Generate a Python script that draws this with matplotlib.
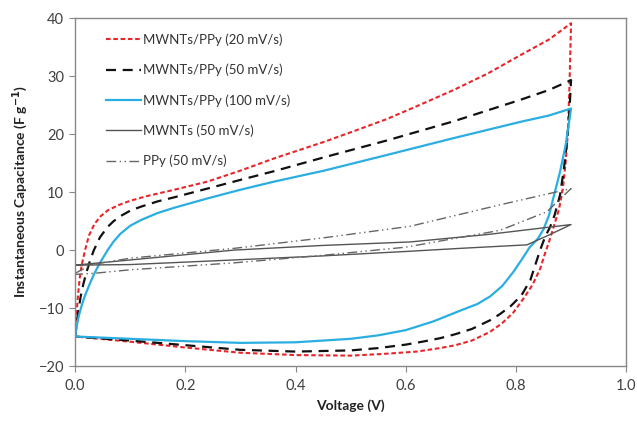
import matplotlib
matplotlib.use('Agg')
from matplotlib import pyplot as plt

plt.rcParams['font.family'] = ['Lato', 'DejaVu Sans']

# MWNTs/PPy 20 mV/s: forward sweep then reverse sweep
red_v = [0.0, 0.004, 0.008, 0.012, 0.018, 0.025, 0.035, 0.047, 0.06, 0.08, 0.10, 0.13, 0.18, 0.24,
         0.30, 0.361, 0.45, 0.5, 0.566, 0.62, 0.687, 0.75, 0.808, 0.86, 0.9,
         0.897, 0.894, 0.89, 0.885, 0.878, 0.87, 0.862, 0.853, 0.844, 0.83, 0.814, 0.795, 0.775,
         0.753, 0.72, 0.69, 0.662, 0.62, 0.56, 0.5, 0.4, 0.3, 0.2, 0.1, 0.0]
red_i = [-14.9, -9.0, -5.0, -2.5, 0.0, 2.5, 4.5, 5.9, 6.9, 7.8, 8.5, 9.3, 10.4, 11.8,
         13.7, 15.8, 18.6, 20.3, 22.6, 24.8, 27.6, 30.5, 33.6, 36.3, 39.1,
         28.0, 20.0, 15.0, 10.5, 7.0, 4.5, 2.0, -0.5, -3.2, -6.0, -8.3, -10.8, -12.6,
         -14.1, -15.6, -16.4, -16.9, -17.5, -17.9, -18.2, -18.1, -17.7, -16.8, -15.8, -14.9]

# MWNTs/PPy 50 mV/s
blk_v = [0.0, 0.005, 0.01, 0.015, 0.02, 0.027, 0.034, 0.045, 0.059, 0.07, 0.085, 0.10, 0.12, 0.15,
         0.18, 0.24, 0.30, 0.361, 0.452, 0.566, 0.687, 0.808, 0.86, 0.9,
         0.897, 0.893, 0.887, 0.88, 0.87, 0.862, 0.853, 0.845, 0.838, 0.826, 0.81, 0.79, 0.77,
         0.753, 0.72, 0.69, 0.662, 0.63, 0.6, 0.55, 0.5, 0.4, 0.3, 0.2, 0.1, 0.0]
blk_i = [-14.9, -11.0, -8.0, -5.8, -4.0, -1.8, 0.0, 2.2, 4.0, 5.0, 6.0, 6.8, 7.5, 8.4,
         9.1, 10.6, 12.1, 13.6, 16.0, 18.9, 22.2, 25.9, 27.6, 29.3,
         24.0, 19.0, 14.0, 9.5, 6.0, 4.0, 2.3, 0.3, -1.7, -5.2, -7.8, -9.7, -11.1,
         -12.1, -13.6, -14.5, -15.2, -15.8, -16.3, -16.9, -17.3, -17.5, -17.2, -16.4, -15.6, -14.9]

# MWNTs/PPy 100 mV/s
blu_v = [0.0, 0.003, 0.007, 0.012, 0.018, 0.027, 0.035, 0.045, 0.059, 0.07, 0.082, 0.10, 0.12, 0.15,
         0.18, 0.21, 0.24, 0.30, 0.361, 0.452, 0.566, 0.687, 0.808, 0.86, 0.9,
         0.89, 0.88, 0.87, 0.86, 0.85, 0.84, 0.825, 0.81, 0.795, 0.775, 0.753, 0.73, 0.7, 0.65,
         0.6, 0.55, 0.5, 0.4, 0.3, 0.2, 0.1, 0.0]
blu_i = [-14.9, -13.0, -11.2, -9.5, -7.8, -5.7, -4.0, -2.2, 0.0, 1.5, 2.8, 4.2, 5.2, 6.4,
         7.3, 8.1, 8.9, 10.4, 11.8, 13.7, 16.4, 19.3, 22.1, 23.2, 24.4,
         18.0, 13.5, 9.8, 6.0, 3.6, 2.0, 0.5, -1.7, -3.8, -6.2, -8.0, -9.3, -10.4, -12.3,
         -13.8, -14.7, -15.3, -15.9, -16.0, -15.7, -15.3, -14.9]

# MWNTs 50 mV/s
cnt_v = [0.0, 0.1, 0.2, 0.289, 0.45, 0.608, 0.75, 0.9,
         0.86, 0.82, 0.7, 0.608, 0.45, 0.289, 0.1, 0.0]
cnt_i = [-2.6, -1.7, -0.8, 0.0, 0.8, 1.4, 2.7, 4.4,
         2.6, 0.9, 0.3, -0.2, -1.0, -1.7, -2.5, -2.6]

# PPy 50 mV/s
ppy_v = [0.0, 0.03, 0.1, 0.2, 0.289, 0.45, 0.608, 0.771, 0.9,
         0.856, 0.771, 0.6, 0.45, 0.289, 0.1, 0.035, 0.0]
ppy_i = [-4.0, -2.5, -1.4, -0.5, 0.3, 2.1, 4.1, 7.8, 10.6,
         6.6, 3.4, 0.5, -0.9, -2.2, -3.4, -4.0, -4.2]

fig = plt.figure(figsize=(6.37, 4.4), dpi=100)
ax = fig.add_axes([0.118, 0.168, 0.865, 0.791])

ax.plot(red_v, red_i, color='#e8262a', lw=1.5, dashes=(2.2, 1.3), label='MWNTs/PPy (20 mV/s)')
ax.plot(blk_v, blk_i, color='#111111', lw=1.6, dashes=(4.5, 3), label='MWNTs/PPy (50 mV/s)')
ax.plot(blu_v, blu_i, color='#2aaee2', lw=1.6, label='MWNTs/PPy (100 mV/s)')
ax.plot(cnt_v, cnt_i, color='#555555', lw=1.0, label='MWNTs (50 mV/s)')
ax.plot(ppy_v, ppy_i, color='#666666', lw=1.0, dashes=(7, 2.5, 1, 2.5, 1, 2.5), label='PPy (50 mV/s)')

ax.set_xlim(0, 1.0)
ax.set_ylim(-20, 40)
ax.set_xticks([0.0, 0.2, 0.4, 0.6, 0.8, 1.0])
ax.set_xticklabels(['0.0', '0.2', '0.4', '0.6', '0.8', '1.0'])
ax.set_yticks(range(-20, 41, 10))

for s in ax.spines.values():
	s.set_color('#888888')
	s.set_linewidth(1.0)
ax.tick_params(axis='both', direction='out', length=4, color='#888888', labelsize=10.5,
               labelcolor='#404040', pad=4)
ax.tick_params(axis='x', pad=5)

ax.set_xlabel('Voltage (V)', fontsize=10, fontweight='bold', color='#222222', labelpad=5)
ax.set_ylabel('Instantaneous Capacitance (F g$^{\\mathbf{-1}}$)', fontsize=10, fontweight='bold',
              color='#222222', labelpad=6)

leg = ax.legend(loc='upper left', bbox_to_anchor=(0.035, 0.99), frameon=False, fontsize=9.5,
                labelspacing=1.35, handlelength=2.6, handletextpad=0.15)
for t in leg.get_texts():
	t.set_color('#333333')

fig.savefig('out.png', dpi=100)
